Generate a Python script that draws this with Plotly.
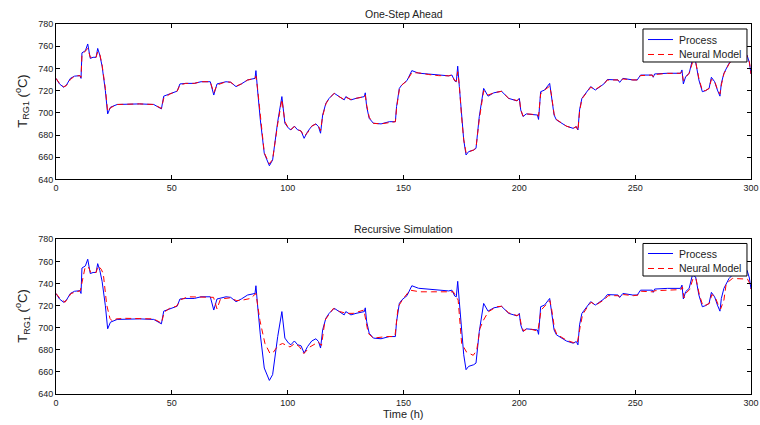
import plotly.graph_objects as go

# ---- data ----
t_process = [0, 1.5, 3.3, 4.5, 6.2, 8, 10.3, 10.8, 11.2, 12.7, 13.7, 14.8, 16, 17.3, 18, 18.9, 19.9,
             21.3, 22.3, 23.5, 26.4, 30.7, 36, 42.2, 44, 45.5, 46.5, 49.2, 51.1, 52.3, 53.5, 56,
             59.7, 62.6, 66.6, 68.1, 69.5, 73.4, 75.4, 77.7, 80, 82.7, 85.9, 86.3, 87.0, 88.2,
             89.9, 92.1, 93.5, 95.7, 97.5, 98.8, 100.4, 101.4, 102.9, 104.3, 105.8, 107.1,
             108.6, 110.4, 112.2, 113.3, 114.2, 115.1, 116.5, 117.9, 120.1, 122.2, 124.4,
             125.1, 127.3, 129.5, 133.1, 133.5, 134.1, 135.2, 137.0, 140.3, 141.7, 143.9,
             146.5, 147.0, 148.2, 149.3, 151.5, 153.6, 156.5, 160.8, 165.1, 169.5, 170.9,
             172.1, 172.8, 173.4, 174.1, 175.0, 176.0, 177.0, 178.1, 180.3, 181.3, 182.7,
             184.6, 186.5, 189.0, 192.3, 195.4, 199.0, 200.0, 200.6, 201.6, 203.0, 205.2,
             207.8, 208.3, 209.2, 210.9, 213.1, 213.8, 215.0, 216.0, 218.1, 220.3, 223.2,
             224.6, 225.3, 226.0, 227.0, 229.6, 230.8, 232.8, 234.7, 236.5, 238.0, 242.6,
             243.3, 244.7, 249.0, 250.9, 252.3, 257.4, 257.8, 258.4, 263.9, 268.2, 269.6,
             270.2, 270.8, 271.8, 273.3, 274.7, 276.1, 277.5, 279.0, 280.4, 281.9, 282.9,
             284.3, 285.5, 286.6, 287.2, 288.3, 290.5, 292.6, 296, 298.3, 299.3, 300]
process = [731, 726, 723, 725, 731, 733, 733.5, 731, 754, 756, 762, 749, 750, 750, 758, 752, 742,
           720, 699, 705, 707.5, 708, 708, 707.5, 705.5, 703.5, 715, 717, 719, 719.5, 726, 726.5,
           726.5, 728, 728, 716, 726, 728, 727.5, 723.6, 726, 729.6, 731, 738, 720.6, 693.6,
           663.5, 652.3, 657.5, 692, 714.6, 690.6, 686, 684.6, 688, 684.6, 683.6, 677,
           683, 688, 690, 687.5, 681.6, 698, 708.6, 713, 717.6, 714.6, 711.6,
           714.6, 711.6, 713, 714.6, 718, 705.5, 695, 690.6, 690, 690.6, 692,
           692, 705.5, 722, 725.2, 729, 738, 735.7, 734.8, 733.6, 733.3, 734,
           728.7, 728, 742, 723.5, 696.5, 675.5, 662, 665, 666.5, 668, 696.5,
           722, 715, 718, 719.4, 713, 710.7, 713, 702.6, 696.6, 699, 698.7,
           698, 694, 719, 720.5, 726.5, 716, 698, 693.6, 691, 688, 686,
           687.5, 684.5, 702.6, 713, 720.5, 723.6, 720.5, 723.6, 726, 730, 729.6,
           727.4, 731, 729.6, 729.6, 734, 734, 732, 735, 735.6, 736, 735.6,
           738.6, 726, 732.6, 735.6, 747.6, 746, 729.6, 719, 720, 722, 732,
           728, 720.5, 715, 726.5, 735.6, 744.5, 749, 751, 752, 745, 735]

# one-step-ahead neural model (same sampling instants as the process)
model_osa = [731, 726.5, 723.5, 724.5, 730, 733, 733.5, 732, 752, 756, 758, 750, 750, 750, 755, 753, 743,
             722, 701, 704.5, 707.5, 708, 708, 707.5, 705.5, 704, 713, 717, 718.5, 719.5, 725, 726.5,
             726.5, 728, 728, 718, 725, 728, 727.5, 724, 726, 729.5, 731, 733, 722, 695,
             664, 654, 658, 690, 712, 692, 686, 685, 687.5, 685, 683.5, 679,
             682, 688, 690, 688, 684, 697, 708, 713, 717.5, 714.5, 712,
             714, 712, 713, 714.5, 716, 707, 696, 690.5, 690, 690.5, 691.5,
             692, 704, 721, 725, 729, 736, 736, 734.5, 733.5, 733.3, 734,
             729, 728.5, 737, 725, 698, 676, 664, 665, 666.5, 668.5, 694,
             720, 716, 718, 719.4, 713, 711, 713, 703, 697, 699, 698.7,
             698, 697, 717, 720.5, 724, 717, 699, 694, 691, 688, 686,
             687.5, 684, 701, 712.5, 720.5, 723, 721, 723.5, 726, 729.5, 729.6,
             728, 730.5, 729.6, 729.6, 733.5, 734, 732.5, 734.5, 735.5, 736, 735.6,
             737, 729, 732, 735.5, 745, 746, 731, 720, 720, 722, 730,
             728.5, 721, 717, 725, 735, 744, 748.5, 751, 751.5, 746, 735]

# recursive simulation neural model
t_recursive = [0, 1.5, 3.9, 5, 6.5, 10.5, 11.5, 12.5, 14, 15, 17.3, 18.2, 19.5, 20.4, 21.9, 23.3,
               24.3, 26, 30, 42, 44, 45.5, 46.7, 49, 52, 54, 57, 62, 68, 69.5, 71, 75, 78, 80.5,
               84, 86.3, 88, 90.2, 92.4, 93.9, 95.9, 97.8, 101.0, 103.1, 105, 107, 109.6, 113.2,
               114.6, 116.1, 119.7, 122.5, 125.4, 128.3, 132.9, 134.8, 137, 142.7, 146.3, 147.7,
               149.9, 152.8, 157.1, 162.1, 168.6, 171.5, 173.6, 175.1, 177.2, 180.1, 181.6, 183,
               184.5, 186.6, 190.2, 192.3, 195.4, 199, 200, 200.8, 201.8, 203, 205.2, 208, 209.4,
               211, 213.2, 214, 215.2, 216.2, 218.3, 220.5, 223.4, 225, 226.2, 227.3, 229.8, 231,
               233, 235, 236.8, 238.3, 242.6, 243.5, 245, 249.2, 251.2, 252.6, 257.4, 258.6, 264,
               268.2, 269.8, 270.4, 271.1, 272, 273.5, 274.9, 276.2, 277.7, 279.2, 280.6, 282,
               283.1, 284.5, 285.7, 286.9, 288.3, 289.3, 292, 296, 298.5, 299.5, 300]
model_recursive = [731, 727, 723, 726, 731, 733.5, 745, 754, 755, 750, 750, 756, 753, 749, 720.5, 708.4,
                   706, 708, 708.5, 708, 706, 704, 714, 717.5, 719.5, 725.5, 728, 728, 727.5, 717, 726, 727, 724.5, 725,
                   726.5, 731, 706.8, 685.7, 676.6, 678, 684, 685.7, 682.6, 685.7, 683, 676.6, 682.6, 687,
                   684, 706.8, 717.4, 714.6, 713, 713, 716, 694.8, 690.6, 692, 692, 719,
                   726.4, 734, 732.5, 732.5, 732.5, 732.5, 725, 685.7, 678, 675, 679.6, 699.3,
                   706.8, 714.4, 719, 719.4, 713.5, 711, 712, 703, 697, 698.5, 698.5, 697, 716,
                   720, 724.5, 716, 699, 694, 691, 688.5, 686.5, 686, 700, 712, 720, 723,
                   720.5, 723, 725.5, 729, 729, 727.5, 730, 729, 729.5, 733, 732.5, 733.5, 734,
                   734.5, 734.5, 737, 727, 731.5, 734.5, 744, 745, 730, 720, 720.5, 722,
                   730, 728, 721.5, 717, 725, 740, 744.6, 744.6, 744, 740, 735]

x_ticks = [0, 50, 100, 150, 200, 250, 300]
y_ticks = [640, 660, 680, 700, 720, 740, 760, 780]
panel_titles = ["One-Step Ahead", "Recursive Simulation"]
series_names = ["Process", "Neural Model"]

FONT = "Liberation Sans, Arial, sans-serif"
BLUE = "rgb(0,0,255)"
RED = "rgb(255,0,0)"
DASH = "6px,4px"

fig = go.Figure()

# top panel
fig.add_trace(go.Scatter(x=t_process, y=process, mode="lines", name=series_names[0],
                         line=dict(color=BLUE, width=1), xaxis="x", yaxis="y"))
fig.add_trace(go.Scatter(x=t_process, y=model_osa, mode="lines", name=series_names[1],
                         line=dict(color=RED, width=1, dash=DASH), xaxis="x", yaxis="y"))
# bottom panel
fig.add_trace(go.Scatter(x=t_process, y=process, mode="lines", name=series_names[0],
                         line=dict(color=BLUE, width=1), xaxis="x2", yaxis="y2"))
fig.add_trace(go.Scatter(x=t_recursive, y=model_recursive, mode="lines", name=series_names[1],
                         line=dict(color=RED, width=1, dash=DASH), xaxis="x2", yaxis="y2"))

axis_common = dict(showline=True, linecolor="black", linewidth=1, mirror="allticks",
                   ticks="inside", ticklen=4, tickcolor="black", showgrid=False, zeroline=False,
                   automargin=False,
                   tickfont=dict(family=FONT, size=9, color="#222"))

fig.update_layout(
    width=760, height=425,
    margin=dict(l=56, r=9, t=24, b=31, autoexpand=False),
    paper_bgcolor="white", plot_bgcolor="white",
    font=dict(family=FONT, color="black"),
    xaxis=dict(domain=[0, 1], anchor="y", range=[0, 300], tickvals=x_ticks, **axis_common),
    yaxis=dict(domain=[0.58, 1.0], anchor="x", range=[640, 780], tickvals=y_ticks, **axis_common),
    xaxis2=dict(domain=[0, 1], anchor="y2", range=[0, 300], tickvals=x_ticks, **axis_common),
    yaxis2=dict(domain=[0.0, 0.418], anchor="x2", range=[640, 780], tickvals=y_ticks, **axis_common),
    showlegend=False,
)

# ---- hand-drawn Matlab-style legend boxes (paper coordinates) ----
LEG_X0, LEG_X1 = 0.8446, 0.9942
SAMPLE_X0, SAMPLE_X1 = 0.8518, 0.8878
TEXT_X = 0.8935
legend_boxes = [  # (box bottom, box top, row1 y, row2 y)
    (0.8973, 0.9865, 0.9580, 0.9176),
    (0.3189, 0.4068, 0.3797, 0.3392),
]
for y0, y1, r1, r2 in legend_boxes:
    fig.add_shape(type="rect", xref="paper", yref="paper", x0=LEG_X0, x1=LEG_X1, y0=y0, y1=y1,
                  line=dict(color="black", width=1), fillcolor="white", layer="above")
    fig.add_shape(type="line", xref="paper", yref="paper", x0=SAMPLE_X0, x1=SAMPLE_X1, y0=r1, y1=r1,
                  line=dict(color=BLUE, width=1), layer="above")
    fig.add_shape(type="line", xref="paper", yref="paper", x0=SAMPLE_X0, x1=SAMPLE_X1, y0=r2, y1=r2,
                  line=dict(color=RED, width=1, dash=DASH), layer="above")
    for ry, name in ((r1, series_names[0]), (r2, series_names[1])):
        fig.add_annotation(text=name, x=TEXT_X, y=ry, xref="paper", yref="paper",
                           xanchor="left", yanchor="middle", showarrow=False,
                           font=dict(family=FONT, size=10.5, color="#222"))

# panel titles
fig.add_annotation(text=panel_titles[0], x=0.5, y=1.0, xref="paper", yref="paper",
                   xanchor="center", yanchor="bottom", yshift=2, showarrow=False,
                   font=dict(family=FONT, size=10.5, color="#222"))
fig.add_annotation(text=panel_titles[1], x=0.5, y=0.418, xref="paper", yref="paper",
                   xanchor="center", yanchor="bottom", yshift=2, showarrow=False,
                   font=dict(family=FONT, size=10.5, color="#222"))
# x label
fig.add_annotation(text="Time (h)", x=0.5, y=0, xref="paper", yref="paper",
                   xanchor="center", yanchor="top", yshift=-12, showarrow=False,
                   font=dict(family=FONT, size=11, color="#222"))
# y labels
ylab = "T<sub>RG1</sub> (<sup>o</sup>C)"
for ypos in [0.79, 0.209]:
    fig.add_annotation(text=ylab, x=0, y=ypos, xref="paper", yref="paper",
                       xanchor="center", yanchor="middle", xshift=-34, textangle=-90,
                       showarrow=False, font=dict(family=FONT, size=13, color="#222"))

fig.write_html("out.html")
